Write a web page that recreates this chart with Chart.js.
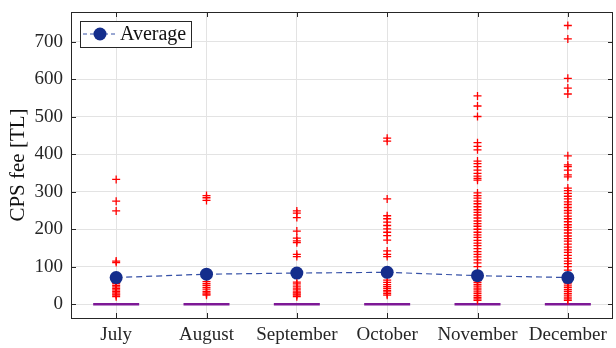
<!DOCTYPE html>
<html>
<head>
<meta charset="utf-8">
<script src="https://cdn.jsdelivr.net/npm/chart.js@4/dist/chart.umd.min.js"></script>
<style>
  html, body { margin: 0; padding: 0; background: #fff; }
  #wrap { width: 616px; height: 348px; }
</style>
</head>
<body>
<div id="wrap"><canvas id="feeChart" width="616" height="348"></canvas></div>
<script>
// months on the x axis
const months = ['July', 'August', 'September', 'October', 'November', 'December'];

// mean CPS fee per month
const averages = [71, 80, 83, 85, 76, 71];

// box (collapsed at zero) per month
const boxLevels = [0, 0, 0, 0, 0, 0];

// outliers per month
const julyOutliers = [333, 275, 249, 115, 111, 60, 55, 50, 46, 42, 38, 34, 30, 27, 24, 20];
const augustOutliers = [290, 284, 277, 60, 55, 50, 45, 40, 34, 30, 27, 24];
const septemberOutliers = [249, 243, 231, 195, 176, 169, 164, 133, 127, 59, 54, 48, 43, 38, 33, 30, 27, 24, 20];
const octoberOutliers = [443, 435, 281, 236, 228, 219, 210, 201, 192, 183, 171, 142, 133, 127,
    64, 58, 52, 47, 42, 37, 33, 28, 24];
const novemberOutliers = [556, 529, 501, 431, 421, 412, 382, 375, 367, 358, 349, 342, 336, 331,
    297, 290, 283, 275, 268, 260, 252, 245, 238, 230, 222, 215, 208, 200, 192, 185, 178, 170,
    163, 156, 148, 140, 133, 126, 118, 110, 100, 83, 78, 73, 68, 63, 58, 53, 48, 43, 38, 33,
    28, 23, 18, 14, 10];
const decemberOutliers = [744, 708, 603, 577, 561, 396, 372, 367, 358, 345, 340, 310, 303, 296,
    288, 281, 273, 266, 258, 250, 243, 235, 228, 220, 212, 205, 198, 190, 182, 175, 168, 160,
    152, 145, 138, 130, 122, 115, 108, 100, 91, 64, 59, 54, 49, 44, 39, 34, 29, 24, 19, 14, 10];

const yTicks = [0, 100, 200, 300, 400, 500, 600, 700];

const outliersByMonth = [julyOutliers, augustOutliers, septemberOutliers,
    octoberOutliers, novemberOutliers, decemberOutliers];

const outlierPoints = [];
outliersByMonth.forEach((list, i) => {
    list.forEach(v => outlierPoints.push({ x: months[i], y: v }));
});

const axisColor = '#262626';
const serif = "'Liberation Serif', 'DejaVu Serif', serif";

// MATLAB style inward ticks on all four sides
const innerTicks = {
    id: 'innerTicks',
    afterDraw(chart) {
        const { ctx, chartArea: a, scales } = chart;
        ctx.save();
        ctx.strokeStyle = axisColor;
        ctx.lineWidth = 1;
        ctx.beginPath();
        scales.y.ticks.forEach(t => {
            const y = Math.round(scales.y.getPixelForValue(t.value)) + 0.5;
            ctx.moveTo(a.left, y); ctx.lineTo(a.left + 5, y);
            ctx.moveTo(a.right, y); ctx.lineTo(a.right - 5, y);
        });
        months.forEach((m, i) => {
            const x = Math.round(scales.x.getPixelForValue(i)) + 0.5;
            ctx.moveTo(x, a.bottom); ctx.lineTo(x, a.bottom - 5);
            ctx.moveTo(x, a.top); ctx.lineTo(x, a.top + 5);
        });
        ctx.stroke();
        ctx.strokeRect(a.left + 0.5, a.top + 0.5, a.right - a.left - 1, a.bottom - a.top);
        ctx.restore();
    }
};

// boxed legend in the upper-left corner
const boxedLegend = {
    id: 'boxedLegend',
    afterDraw(chart) {
        const { ctx, chartArea: a } = chart;
        const x = a.left + 9, y = a.top + 9, w = 111, h = 26;
        ctx.save();
        ctx.fillStyle = '#fff';
        ctx.fillRect(x, y, w, h);
        ctx.strokeStyle = axisColor;
        ctx.lineWidth = 1;
        ctx.strokeRect(x + 0.5, y + 0.5, w, h);
        const cy = y + h / 2;
        ctx.strokeStyle = '#3550a6';
        ctx.setLineDash([4, 3]);
        ctx.beginPath();
        ctx.moveTo(x + 3, cy); ctx.lineTo(x + 37, cy);
        ctx.stroke();
        ctx.setLineDash([]);
        ctx.fillStyle = '#142d8c';
        ctx.beginPath();
        ctx.arc(x + 20, cy, 6.5, 0, Math.PI * 2);
        ctx.fill();
        ctx.fillStyle = '#111';
        ctx.font = '20px ' + serif;
        ctx.textBaseline = 'middle';
        ctx.fillText('Average', x + 40, cy + 1);
        ctx.restore();
    }
};

new Chart(document.getElementById('feeChart').getContext('2d'), {
    type: 'line',
    data: {
        labels: months,
        datasets: [
            {
                label: 'Box',
                data: boxLevels,
                showLine: false,
                pointStyle: 'line',
                pointRadius: 23,
                pointBorderWidth: 2.5,
                borderColor: '#7d1896',
                backgroundColor: '#7d1896',
                order: 3
            },
            {
                label: 'Outliers',
                data: outlierPoints,
                showLine: false,
                pointStyle: 'cross',
                pointRadius: 4,
                pointBorderWidth: 1.3,
                borderColor: '#ff0000',
                backgroundColor: '#ff0000',
                order: 2
            },
            {
                label: 'Average',
                data: averages,
                borderColor: '#3550a6',
                borderWidth: 1.2,
                borderDash: [6, 4],
                pointRadius: 6.5,
                pointBackgroundColor: '#142d8c',
                pointBorderColor: '#142d8c',
                pointBorderWidth: 0,
                tension: 0,
                order: 1
            }
        ]
    },
    options: {
        responsive: false,
        animation: false,
        layout: { autoPadding: false, padding: { top: 12, right: 3, left: 0, bottom: 0 } },
        plugins: {
            legend: { display: false },
            tooltip: { enabled: false }
        },
        scales: {
            x: {
                type: 'category',
                offset: true,
                grid: { color: '#e3e3e3', drawTicks: false, offset: false },
                border: { display: false },
                ticks: {
                    color: axisColor,
                    font: { family: serif, size: 19 },
                    padding: 6,
                    maxRotation: 0,
                    autoSkip: false
                },
                afterFit(scale) {
                    scale.height = 30;
                    scale.paddingLeft = 0;
                    scale.paddingRight = 0;
                }
            },
            y: {
                min: -37,
                max: 780,
                grid: { color: '#e3e3e3', drawTicks: false },
                border: { display: false },
                afterBuildTicks(scale) { scale.ticks = yTicks.map(v => ({ value: v })); },
                ticks: {
                    color: axisColor,
                    font: { family: serif, size: 19 },
                    padding: 8
                },
                title: {
                    display: true,
                    text: 'CPS fee [TL]',
                    color: '#111',
                    font: { family: serif, size: 21 },
                    padding: 6
                },
                afterFit(scale) {
                    scale.width = 71;
                    scale.paddingTop = 0;
                    scale.paddingBottom = 0;
                }
            }
        }
    },
    plugins: [innerTicks, boxedLegend]
});
</script>
</body>
</html>
